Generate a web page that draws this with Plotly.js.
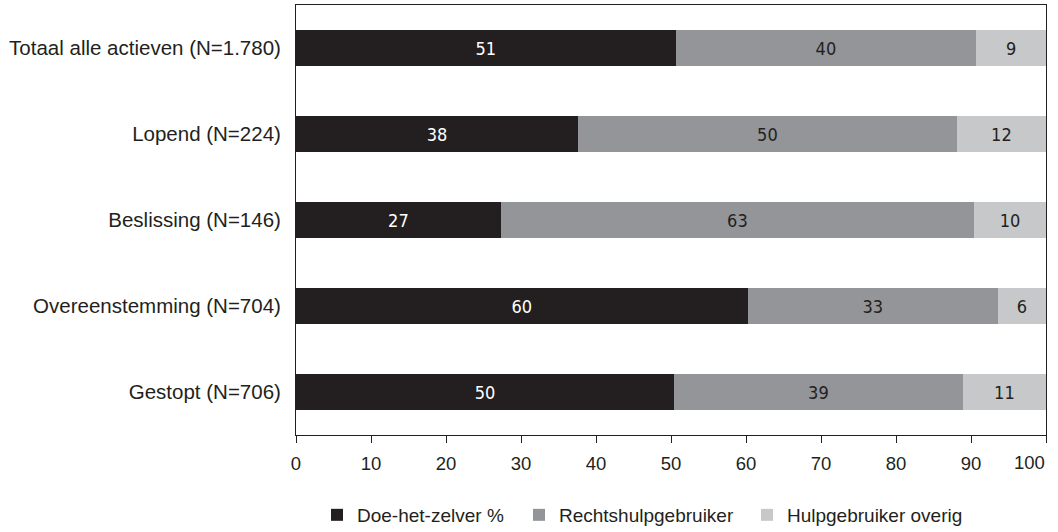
<!DOCTYPE html>
<html>
<head>
<meta charset="utf-8">
<script src="https://cdn.plot.ly/plotly-3.0.1.min.js"></script>
<style>html,body{margin:0;padding:0;background:#fff;}#chart{width:1058px;height:532px;}</style>
</head>
<body>
<div id="chart"></div>
<script>
var categories = ["Totaal alle actieven (N=1.780)", "Lopend (N=224)", "Beslissing (N=146)", "Overeenstemming (N=704)", "Gestopt (N=706)"];
var seriesNames = ["Doe-het-zelver %", "Rechtshulpgebruiker", "Hulpgebruiker overig"];
var doeHetZelver = [50.6, 37.6, 27.3, 60.2, 50.4];
var rechtshulp = [40.1, 50.5, 63.1, 33.4, 38.5];
var hulpOverig = [9.3, 11.9, 9.6, 6.4, 11.1];
var doeHetZelverLabels = ["51", "38", "27", "60", "50"];
var rechtshulpLabels = ["40", "50", "63", "33", "39"];
var hulpOverigLabels = ["9", "12", "10", "6", "11"];
var xTicks = [0, 10, 20, 30, 40, 50, 60, 70, 80, 90, 100];

var colors = ["#231f20", "#939598", "#c7c8ca"];
var textColors = ["#ffffff", "#231f20", "#231f20"];
var values = [doeHetZelver, rechtshulp, hulpOverig];
var labels = [doeHetZelverLabels, rechtshulpLabels, hulpOverigLabels];
var legendIds = ["legend", "legend2", "legend3"];
var legendX = [0.028, 0.2973, 0.6013];
var barFont = "'Liberation Sans Narrow', 'DejaVu Sans Condensed', 'Liberation Sans', Arial, sans-serif";
var mainFont = "'Liberation Sans', Arial, sans-serif";

var lastTick = xTicks[xTicks.length - 1];
// the last tick label sits right-aligned against the frame in the reference
var xTickText = xTicks.map(function (t) { return t === lastTick ? "" : String(t); });

var traces = values.map(function (v, i) {
  return {
    type: "bar",
    orientation: "h",
    name: seriesNames[i],
    legend: legendIds[i],
    y: categories,
    x: v,
    text: labels[i],
    textposition: "inside",
    insidetextanchor: "middle",
    textangle: 0,
    constraintext: "none",
    textfont: {family: barFont, size: 18, color: textColors[i]},
    marker: {color: colors[i], line: {width: 0}},
    hoverinfo: "x+y+name"
  };
});

function legendCfg(x) {
  return {
    orientation: "h",
    x: x, xanchor: "left",
    y: -0.186, yanchor: "middle",
    font: {family: mainFont, size: 19, color: "#231f20"},
    itemclick: false,
    itemwidth: 30,
    bgcolor: "rgba(0,0,0,0)"
  };
}

var layout = {
  width: 1058,
  height: 532,
  barmode: "stack",
  bargap: 0.58,
  margin: {l: 296, r: 12, t: 5, b: 97, autoexpand: false},
  paper_bgcolor: "#ffffff",
  plot_bgcolor: "#ffffff",
  font: {family: mainFont, color: "#231f20"},
  showlegend: true,
  legend: legendCfg(legendX[0]),
  legend2: legendCfg(legendX[1]),
  legend3: legendCfg(legendX[2]),
  xaxis: {
    range: [0, 100],
    tickvals: xTicks,
    ticktext: xTickText,
    ticks: "outside",
    ticklen: 7,
    tickcolor: "#231f20",
    tickwidth: 1,
    ticklabelstandoff: 5,
    showgrid: false,
    zeroline: false,
    showline: true,
    linecolor: "#231f20",
    linewidth: 1,
    mirror: true,
    automargin: false,
    tickfont: {family: mainFont, size: 18.5, color: "#231f20"},
    fixedrange: true
  },
  yaxis: {
    categoryorder: "array",
    categoryarray: categories,
    autorange: "reversed",
    showgrid: false,
    zeroline: false,
    showline: true,
    linecolor: "#231f20",
    linewidth: 1,
    mirror: true,
    automargin: false,
    ticks: "",
    ticklabelstandoff: 10,
    tickfont: {family: mainFont, size: 20.5, color: "#231f20"},
    fixedrange: true
  },
  annotations: [{
    text: String(lastTick),
    x: lastTick, xref: "x",
    y: 0, yref: "paper",
    xanchor: "right", yanchor: "middle",
    xshift: 1, yshift: -27,
    showarrow: false,
    font: {family: mainFont, size: 18.5, color: "#231f20"}
  }]
};

Plotly.newPlot("chart", traces, layout, {displayModeBar: false, staticPlot: true});
</script>
</body>
</html>
